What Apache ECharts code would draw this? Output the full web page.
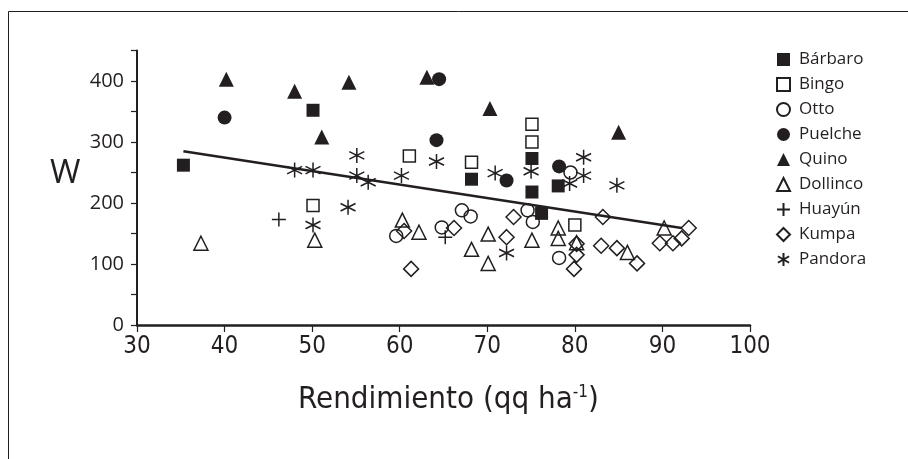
<!DOCTYPE html>
<html lang="es">
<head>
<meta charset="UTF-8">
<title>Rendimiento vs W</title>
<style>
  body { margin: 0; background: #fff; }
  #main { width: 908px; height: 459px; }
</style>
</head>
<body>
<div id="main"></div>
<script src="https://cdn.jsdelivr.net/npm/echarts@6/dist/echarts.min.js"></script>
<script>
// datos: [rendimiento, W]
var barbaro  = [[35.3,262],[50.1,352],[68.2,239],[75.1,273],[75.1,218],[76.2,183],[78.1,228]];
var bingo    = [[50.1,196],[61.1,277],[68.2,267],[75.1,329],[75.1,300],[80.0,164]];
var otto     = [[59.6,146],[64.8,160],[67.1,188],[68.1,178],[74.6,188],[75.2,169],[78.2,110],[79.5,250]];
var puelche  = [[40.0,340],[64.2,303],[64.5,403],[72.2,237],[78.2,260]];
var quino    = [[40.2,403],[48.0,383],[51.1,308],[54.2,398],[63.1,406],[70.3,355],[85.0,316]];
var dollinco = [[37.3,134],[50.3,139],[60.3,172],[62.2,152],[68.2,124],[70.1,149],[70.1,101],[75.1,139],
                [78.1,159],[78.1,142],[80.2,135],[86.0,119],[90.2,159]];
var huayun   = [[46.2,173],[65.2,144]];
var kumpa    = [[60.5,154],[61.3,92],[66.2,159],[72.2,144],[73.0,177],[80.2,133],[80.2,115],[79.9,92],
                [83.2,177],[83.0,130],[84.8,126],[87.1,101],[89.7,134],[91.2,134],[92.2,142],[93.0,159]];
var pandora  = [[48.0,254],[50.1,254],[50.1,164],[54.1,193],[55.1,278],[55.1,245],[56.4,234],[60.2,245],
                [64.2,268],[70.9,249],[72.2,118],[75.0,252],[79.4,232],[81.0,275],[81.0,245],[84.8,229]];
var trendLine = [[35.3,285],[92.2,159]];

var varieties = ['Bárbaro','Bingo','Otto','Puelche','Quino','Dollinco','Huayún','Kumpa','Pandora'];

var ink = '#231f20';
var narrow = '"DejaVu Sans Condensed", "Liberation Sans Narrow", "Open Sans"';
var asterisk = 'path://M5,0L5,10M0.7,2.5L9.3,7.5M0.7,7.5L9.3,2.5';
var plus = 'path://M5,0L5,10M0,5L10,5';

function pts(name, data, symbol, size, filled) {
    return {
        name: name,
        type: 'scatter',
        data: data,
        symbol: symbol,
        symbolSize: size,
        itemStyle: filled
            ? { color: ink, borderWidth: 0, opacity: 1 }
            : { color: 'transparent', borderColor: ink, borderWidth: 1.5, opacity: 1 },
        emphasis: { disabled: true },
        z: 3
    };
}

var myChart = echarts.init(document.getElementById('main'));

var option = {
    animation: false,
    textStyle: { fontFamily: 'Open Sans', color: ink },
    grid: { left: 137, right: 158, top: 50.5, bottom: 134 },
    xAxis: {
        type: 'value',
        min: 30, max: 100, interval: 10,
        splitLine: { show: false },
        axisLine: { onZero: false, lineStyle: { color: ink, width: 2.5 } },
        axisTick: { length: 7, lineStyle: { color: ink, width: 1.2 } },
        axisLabel: { margin: 10, fontSize: 24, color: ink, fontFamily: narrow }
    },
    yAxis: {
        type: 'value',
        min: 0, max: 450, interval: 50,
        splitLine: { show: false },
        axisLine: { show: true, lineStyle: { color: ink, width: 2 } },
        axisTick: { length: 6, lineStyle: { color: ink, width: 1.2 } },
        axisLabel: {
            margin: 13, fontSize: 20, color: ink,
            formatter: function (v) { return v % 100 === 0 ? v : ''; }
        }
    },
    legend: {
        data: varieties,
        orient: 'vertical',
        left: 771,
        top: 46,
        itemWidth: 13,
        itemHeight: 13,
        itemGap: 8,
        textStyle: { fontSize: 17, color: ink, padding: [0, 0, 0, 4] }
    },
    graphic: [
        { type: 'rect', shape: { x: 8.5, y: 11.5, width: 1200, height: 1200 },
          style: { fill: 'none', stroke: ink, lineWidth: 1 }, silent: true },
        { type: 'text', left: 50, top: 157,
          style: { text: 'W', fontSize: 33, fill: ink, fontFamily: 'Open Sans' } },
        { type: 'text', left: 298, top: 384,
          style: {
              text: '{a|Rendimiento (qq ha}{s|-1}{a|)}',
              rich: {
                  a: { fontSize: 31, fontFamily: narrow, fill: ink },
                  s: { fontSize: 17, fontFamily: narrow, fill: ink, verticalAlign: 'top', padding: [0, 0, 12, 0] }
              }
          } }
    ],
    series: [
        pts('Bárbaro', barbaro, 'rect', 13, true),
        pts('Bingo', bingo, 'rect', 12, false),
        pts('Otto', otto, 'circle', 13, false),
        pts('Puelche', puelche, 'circle', 14, true),
        pts('Quino', quino, 'triangle', 15, true),
        pts('Dollinco', dollinco, 'triangle', 14, false),
        pts('Huayún', huayun, plus, 14, false),
        pts('Kumpa', kumpa, 'diamond', 15, false),
        pts('Pandora', pandora, asterisk, 15, false),
        {
            name: 'tendencia',
            type: 'line',
            data: trendLine,
            symbol: 'none',
            lineStyle: { color: ink, width: 2.5 },
            z: 2
        }
    ]
};

myChart.setOption(option);
</script>
</body>
</html>
